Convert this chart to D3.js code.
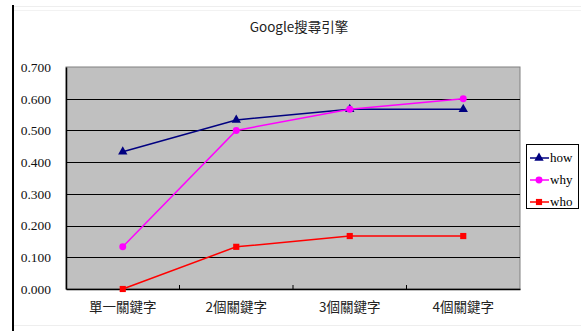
<!DOCTYPE html>
<html><head><meta charset="utf-8">
<script src="https://cdn.jsdelivr.net/npm/d3@7"></script>
<style>body{margin:0;background:#fff;} svg{display:block;}</style>
</head><body>
<script>
const categories = ["單一關鍵字", "2個關鍵字", "3個關鍵字", "4個關鍵字"];
const seriesNames = ["how", "why", "who"];
const howValues = [0.433, 0.533, 0.567, 0.567];
const whyValues = [0.133, 0.500, 0.567, 0.600];
const whoValues = [0.000, 0.133, 0.167, 0.167];
const yTicks = [0, 0.1, 0.2, 0.3, 0.4, 0.5, 0.6, 0.7];
const title = "Google搜尋引擎";

(function () {
const W = 581, H = 331;
const svg = d3.select("body").append("svg").attr("width", W).attr("height", H);
const latin = "'Liberation Serif', 'Noto Sans CJK TC', serif";
const cjk = "'Noto Sans CJK TC', 'Liberation Serif', serif";

// frame
svg.append("line").attr("x1", 13).attr("x2", 13).attr("y1", 5).attr("y2", H).attr("stroke", "#000").attr("stroke-width", 2);
svg.append("line").attr("x1", 14).attr("x2", W).attr("y1", 6.5).attr("y2", 6.5).attr("stroke", "#eee");
svg.append("line").attr("x1", 14).attr("x2", W).attr("y1", 10.5).attr("y2", 10.5).attr("stroke", "#f2f2f2");
svg.append("line").attr("x1", 14).attr("x2", W).attr("y1", 325.5).attr("y2", 325.5).attr("stroke", "#eee");

const pl = 66, pr = 520, pt = 67, pb = 289;
const x = d3.scaleBand().domain(categories).range([pl, pr]);
const y = d3.scaleLinear().domain([0, 0.7]).range([pb, pt]);

svg.append("rect").attr("x", pl).attr("y", pt).attr("width", pr - pl).attr("height", pb - pt)
  .attr("fill", "#c0c0c0").attr("stroke", "#808080").attr("stroke-width", 1);

// gridlines
svg.append("g").selectAll("line").data(yTicks.filter(d => d > 0 && d < 0.7)).join("line")
  .attr("x1", pl).attr("x2", pr).attr("y1", d => Math.round(y(d)) + 0.5).attr("y2", d => Math.round(y(d)) + 0.5)
  .attr("stroke", "#000").attr("stroke-width", 1);

// axes
const yAxis = d3.axisLeft(y).tickValues(yTicks).tickFormat(d3.format(".3f")).tickSize(0).tickPadding(15);
const gy = svg.append("g").attr("transform", `translate(${pl},0)`).call(yAxis);
gy.select(".domain").attr("stroke", "#000").attr("stroke-width", 1.5);
gy.selectAll("text").attr("font-family", latin).attr("font-size", 13.5).attr("fill", "#111");

const xAxis = d3.axisBottom(x).tickSize(0).tickPadding(13);
const gx = svg.append("g").attr("transform", `translate(0,${pb})`).call(xAxis);
gx.select(".domain").attr("stroke", "#000").attr("stroke-width", 1.5);
gx.selectAll("text").attr("font-family", cjk).attr("font-size", 13.5).attr("fill", "#222");
svg.append("g").selectAll("line").data(categories.slice(1)).join("line")
  .attr("x1", d => x(d)).attr("x2", d => x(d)).attr("y1", pb - 4).attr("y2", pb).attr("stroke", "#000");

// title
svg.append("text").attr("x", 299).attr("y", 32).attr("text-anchor", "middle")
  .attr("font-family", cjk).attr("font-size", 13.5).attr("fill", "#222").text(title);

const series = [
  {name: seriesNames[0], values: howValues, color: "#000080", shape: d3.symbolTriangle},
  {name: seriesNames[1], values: whyValues, color: "#ff00ff", shape: d3.symbolCircle},
  {name: seriesNames[2], values: whoValues, color: "#ff0000", shape: d3.symbolSquare}
];
const cx = c => x(c) + x.bandwidth() / 2;
const line = d3.line().x((d, i) => cx(categories[i])).y(d => y(d));

series.forEach(s => {
  svg.append("path").datum(s.values).attr("d", line).attr("fill", "none").attr("stroke", s.color).attr("stroke-width", 1.5);
  svg.append("g").selectAll("path").data(s.values).join("path")
    .attr("transform", (d, i) => `translate(${cx(categories[i])},${y(d)})`)
    .attr("d", d3.symbol().type(s.shape).size(38)).attr("fill", s.color);
});

// legend
const lg = svg.append("g");
lg.append("rect").attr("x", 526.5).attr("y", 144.5).attr("width", 52).attr("height", 64).attr("fill", "#fff").attr("stroke", "#000");
series.forEach((s, i) => {
  const yy = 158 + i * 22;
  lg.append("line").attr("x1", 530).attr("x2", 549).attr("y1", yy).attr("y2", yy).attr("stroke", s.color).attr("stroke-width", 1.5);
  lg.append("path").attr("transform", `translate(539,${yy})`).attr("d", d3.symbol().type(s.shape).size(38)).attr("fill", s.color);
  lg.append("text").attr("x", 550).attr("y", yy + 4).attr("font-family", latin).attr("font-size", 13).attr("fill", "#000").text(s.name);
});
})();
</script>
</body></html>
